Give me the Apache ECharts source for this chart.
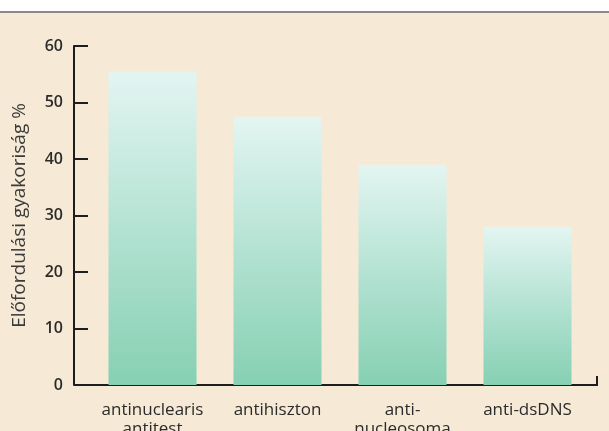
<!DOCTYPE html>
<html>
<head>
<meta charset="utf-8">
<script src="https://cdn.jsdelivr.net/npm/echarts@6/dist/echarts.min.js"></script>
<style>
  html, body { margin: 0; padding: 0; background: #fff; }
  #chart { width: 609px; height: 431px; }
</style>
</head>
<body>
<div id="chart"></div>
<script>
const categories = ['antinuclearis\nantitest', 'antihiszton', 'anti-\nnucleosoma', 'anti-dsDNS'];
const values = [55.5, 47.5, 39, 28];
const yTicks = [0, 10, 20, 30, 40, 50, 60];

const chart = echarts.init(document.getElementById('chart'));
const font = '"Open Sans", "Noto Sans", sans-serif';

const option = {
  backgroundColor: '#f6e9d5',
  animation: false,
  grid: { left: 90, right: 19, top: 46, bottom: 46, outerBoundsMode: 'none', containLabel: false },
  xAxis: {
    type: 'category',
    data: categories,
    axisLine: { show: false },
    axisTick: { show: false },
    axisLabel: {
      color: '#2b2b2b',
      fontFamily: font,
      fontSize: 17,
      lineHeight: 19,
      margin: 16,
      verticalAlign: 'top',
      interval: 0
    }
  },
  yAxis: {
    type: 'value',
    min: yTicks[0],
    max: yTicks[yTicks.length - 1],
    interval: 10,
    offset: 16,
    name: 'Előfordulási gyakoriság %',
    nameLocation: 'middle',
    nameGap: 45,
    nameTextStyle: { color: '#3a3a3a', fontFamily: font, fontSize: 19 },
    axisLine: { show: true, lineStyle: { color: '#1e1e1e', width: 2 } },
    axisTick: { show: true, inside: true, length: 14, lineStyle: { color: '#1e1e1e', width: 2 } },
    axisLabel: { color: '#2b2b2b', fontFamily: font, fontSize: 16, fontWeight: 600, margin: 11 },
    splitLine: { show: false }
  },
  series: [{
    type: 'bar',
    data: values,
    barWidth: 88,
    itemStyle: {
      color: new echarts.graphic.LinearGradient(0, 0, 0, 1, [
        { offset: 0, color: '#e3f5f2' },
        { offset: 0.5, color: '#b3e2d2' },
        { offset: 1, color: '#86d0b3' }
      ])
    }
  }]
};
chart.setOption(option);

// frame line on top and the x axis line running from the y axis to the right end
const y0 = chart.convertToPixel({ yAxisIndex: 0 }, 0);
const axisX = 90 - 16;
const rightX = 597;
chart.setOption({
  graphic: [
    { type: 'rect', shape: { x: 0, y: 0, width: 609, height: 11 }, style: { fill: '#ffffff' }, silent: true },
    { type: 'line', shape: { x1: 0, y1: 12, x2: 609, y2: 12 }, style: { stroke: '#8a8a8a', lineWidth: 2 }, silent: true },
    {
      type: 'polyline',
      shape: { points: [[axisX, y0], [rightX, y0], [rightX, y0 - 9]] },
      style: { stroke: '#1e1e1e', lineWidth: 2, fill: null },
      silent: true
    }
  ]
});
</script>
</body>
</html>
